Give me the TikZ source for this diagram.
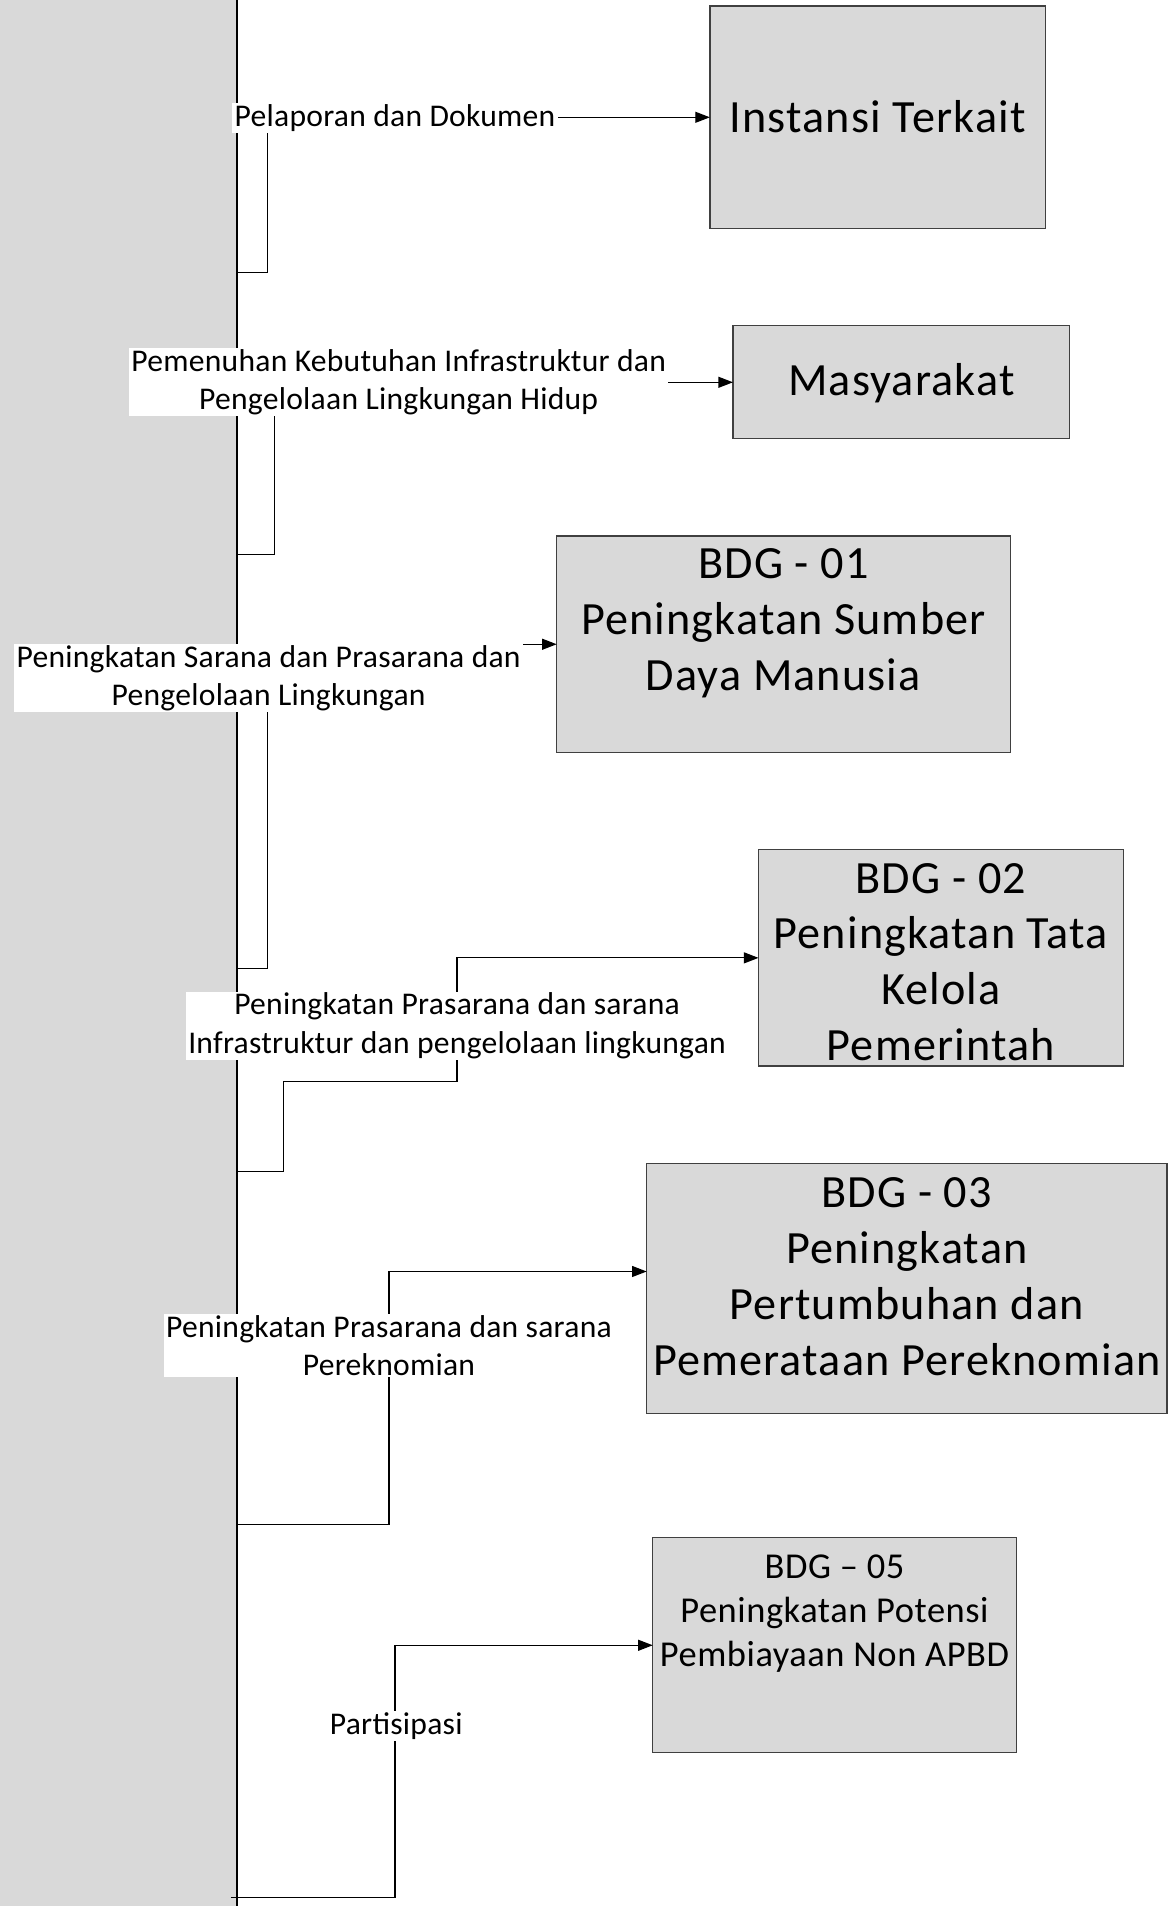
\documentclass[tikz,border=0pt]{standalone}
\usepackage{fontspec}
\setmainfont{Carlito}
\usetikzlibrary{arrows.meta}
\definecolor{panelgray}{HTML}{D9D9D9}
\definecolor{edgegray}{HTML}{404040}
\begin{document}
\begin{tikzpicture}[x=1pt,y=-1pt,
  box/.style={draw=edgegray, line width=1pt, fill=panelgray, inner sep=0pt, outer sep=0pt},
  boxtext/.style={align=center, inner sep=0pt, font=\fontsize{38}{46}\selectfont\addfontfeature{LetterSpace=2.5}},
  smalltext/.style={align=center, inner sep=0pt, font=\fontsize{30}{36.5}\selectfont\addfontfeature{LetterSpace=1.5}},
  lbl/.style={fill=white, align=center, inner xsep=2pt, inner ysep=1pt, font=\fontsize{26}{31.7}\selectfont\addfontfeature{LetterSpace=0.8}},
  conn/.style={draw=black, line width=1pt},
  arr/.style={conn, -{Triangle[length=12pt,width=9pt]}}]

\useasboundingbox (0,0) rectangle (963,1568);

% left panel and main line
\node[fill=panelgray, inner sep=0pt, outer sep=0pt, minimum width=195pt, minimum height=1568pt, anchor=north west] (panel) at (0,0) {};
\draw[conn] (panel.north east) -- (panel.south east);

% boxes
\node[box, minimum width=276pt, minimum height=183pt] (inst) at (722,96.5) {};
\node[box, minimum width=277pt, minimum height=93pt] (masy) at (741.5,314.5) {};
\node[box, minimum width=373pt, minimum height=178pt] (bdg01) at (644.5,530) {};
\node[box, minimum width=300pt, minimum height=178pt] (bdg02) at (774,788) {};
\node[box, minimum width=428pt, minimum height=206pt] (bdg03) at (746,1060) {};
\node[box, minimum width=299pt, minimum height=177pt] (bdg05) at (686.5,1353.5) {};

% box texts
\node[boxtext] (tinst) at (722,96) {Instansi Terkait};
\node[boxtext] (tmasy) at (741.5,315) {Masyarakat};
\node[boxtext] (t01) at (644.5,512.5) {BDG - 01\\Peningkatan Sumber\\Daya Manusia};
\node[boxtext] (t02) at (774,791.5) {BDG - 02\\Peningkatan Tata\\Kelola\\Pemerintah};
\node[boxtext] (t03) at (746,1050) {BDG - 03\\Peningkatan\\Pertumbuhan dan\\Pemerataan Pereknomian};
\node[smalltext] (t05) at (686.5,1327.5) {BDG -- 05\\Peningkatan Potensi\\Pembiayaan Non APBD};

% start points on main line
\coordinate (s1) at (195,224);
\coordinate (s2) at (195,456);
\coordinate (s3) at (195,797);
\coordinate (s4) at (195,964);
\coordinate (s5) at (195,1254);
\coordinate (s6) at (190,1561);

% connectors
\draw[arr] (s1) -- (220,224) -- (220,96.5) -- (inst.west);
\draw[arr] (s2) -- (226,456) -- (226,314.5) -- (masy.west);
\draw[arr] (s3) -- (220,797) -- (220,530) -- (bdg01.west);
\draw[arr] (s4) -- (233,964) -- (233,890) -- (376,890) -- (376,788) -- (bdg02.west);
\draw[arr] (s5) -- (320,1254) -- (320,1046) -- (bdg03.west |- 0,1046);
\draw[arr] (s6) -- (325,1561) -- (325,1353.5) -- (bdg05.west);

% labels
\node[lbl] (l1) at (325,97) {Pelaporan dan Dokumen};
\node[lbl] (l2) at (328,314.5) {Pemenuhan Kebutuhan Infrastruktur dan\\Pengelolaan Lingkungan Hidup};
\node[lbl] (l3) at (221,558) {Peningkatan Sarana dan Prasarana dan\\Pengelolaan Lingkungan};
\node[lbl] (l4) at (376,844) {Peningkatan Prasarana dan sarana\\Infrastruktur dan pengelolaan lingkungan};
\node[lbl] (l5) at (320,1107) {Peningkatan Prasarana dan sarana\\Pereknomian};
\node[lbl] (l6) at (326,1420) {Partisipasi};
\end{tikzpicture}
\end{document}
